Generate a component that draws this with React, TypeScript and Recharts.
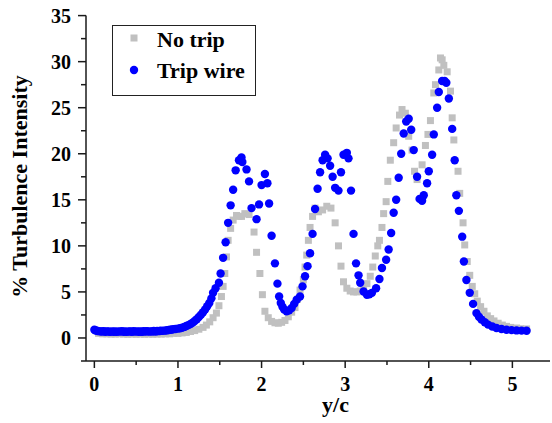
import React from 'react';
import { ScatterChart, Scatter, XAxis, YAxis, Legend } from 'recharts';

// "No trip" series: [y/c, % turbulence intensity]
const noTrip: [number, number][] = [
  [0.05, 0.5], [0.1, 0.45], [0.15, 0.45], [0.2, 0.42], [0.25, 0.42], [0.3, 0.45], [0.35, 0.42], [0.4, 0.4],
  [0.45, 0.42], [0.5, 0.4], [0.55, 0.42], [0.6, 0.4], [0.65, 0.42], [0.7, 0.4], [0.75, 0.42], [0.8, 0.42],
  [0.85, 0.45], [0.9, 0.45], [0.95, 0.5], [1.0, 0.5], [1.05, 0.55], [1.1, 0.6], [1.15, 0.7], [1.2, 0.8],
  [1.25, 0.95], [1.3, 1.15], [1.34, 1.4], [1.38, 1.75], [1.42, 2.2], [1.46, 2.7], [1.49, 3.5], [1.52, 4.5],
  [1.54, 5.6], [1.56, 7.0], [1.58, 8.8], [1.6, 10.6], [1.63, 11.9], [1.66, 12.8], [1.7, 13.3], [1.73, 13.2],
  [1.76, 13.2], [1.8, 13.5], [1.85, 13.4], [1.91, 11.5], [1.94, 9.3], [1.98, 7.0], [2.01, 4.7], [2.04, 2.9],
  [2.08, 2.2], [2.12, 1.8], [2.16, 1.65], [2.2, 1.6], [2.24, 1.7], [2.28, 1.9], [2.32, 2.3], [2.36, 2.8],
  [2.4, 3.3], [2.43, 4.2], [2.46, 5.2], [2.5, 6.3], [2.52, 7.7], [2.54, 9.0], [2.56, 10.6], [2.58, 12.0],
  [2.61, 13.2], [2.64, 14.1], [2.68, 13.7], [2.73, 13.9], [2.78, 14.3], [2.83, 14.1], [2.88, 12.5], [2.92, 10.0],
  [2.95, 7.8], [2.98, 6.1], [3.02, 5.4], [3.06, 5.1], [3.1, 5.0], [3.14, 5.0], [3.18, 5.1], [3.22, 5.4],
  [3.26, 5.9], [3.3, 6.7], [3.33, 7.7], [3.36, 8.9], [3.39, 10.0], [3.41, 10.6], [3.44, 12.0], [3.46, 13.5],
  [3.49, 14.8], [3.51, 17.0], [3.54, 19.3], [3.58, 21.2], [3.61, 22.8], [3.65, 24.2], [3.68, 24.8], [3.72, 24.4],
  [3.76, 21.9], [3.8, 20.4], [3.83, 18.1], [3.86, 17.2], [3.92, 18.8], [3.96, 20.9], [3.99, 22.1], [4.02, 23.6],
  [4.06, 26.6], [4.08, 27.5], [4.12, 29.1], [4.14, 30.4], [4.16, 30.2], [4.18, 29.6], [4.22, 28.9], [4.26, 26.8],
  [4.28, 23.9], [4.3, 21.5], [4.35, 18.1], [4.37, 15.7], [4.41, 12.5], [4.43, 10.1], [4.46, 8.3], [4.49, 6.8],
  [4.52, 5.6], [4.55, 4.8], [4.58, 4.0], [4.62, 3.4], [4.66, 2.9], [4.7, 2.4], [4.74, 2.1], [4.78, 1.85],
  [4.83, 1.6], [4.88, 1.4], [4.93, 1.26], [4.98, 1.15], [5.05, 1.08], [5.1, 1.0], [5.17, 0.98],
];

// "Trip wire" series: [y/c, % turbulence intensity]
const tripWire: [number, number][] = [
  [0, 0.9], [0.015, 0.82], [0.03, 0.78], [0.05, 0.74], [0.07, 0.72], [0.09, 0.7], [0.11, 0.74], [0.13, 0.68],
  [0.15, 0.72], [0.17, 0.7], [0.19, 0.66], [0.21, 0.72], [0.23, 0.68], [0.25, 0.71], [0.27, 0.66], [0.29, 0.72],
  [0.31, 0.69], [0.33, 0.74], [0.35, 0.68], [0.37, 0.71], [0.39, 0.66], [0.41, 0.72], [0.43, 0.7], [0.45, 0.67],
  [0.47, 0.73], [0.49, 0.69], [0.51, 0.72], [0.53, 0.67], [0.55, 0.71], [0.57, 0.68], [0.59, 0.73], [0.61, 0.7],
  [0.63, 0.74], [0.65, 0.69], [0.67, 0.72], [0.69, 0.7], [0.71, 0.75], [0.73, 0.71], [0.75, 0.76], [0.77, 0.74],
  [0.79, 0.78], [0.81, 0.77], [0.83, 0.8], [0.85, 0.8], [0.87, 0.84], [0.89, 0.86], [0.91, 0.9], [0.93, 0.92],
  [0.95, 0.96], [0.97, 0.98], [1.0, 1.02], [1.025, 1.06], [1.05, 1.12], [1.075, 1.2], [1.1, 1.3], [1.125, 1.4],
  [1.15, 1.52], [1.175, 1.66], [1.2, 1.84], [1.225, 2.04], [1.25, 2.28], [1.275, 2.52], [1.3, 2.8], [1.325, 3.1],
  [1.35, 3.45], [1.375, 3.8], [1.4, 4.3], [1.42, 4.9], [1.45, 5.4], [1.49, 6.0], [1.51, 7.0], [1.54, 8.7],
  [1.57, 10.4], [1.6, 12.5], [1.63, 14.4], [1.66, 16.1], [1.69, 18.2], [1.73, 19.3], [1.76, 19.6], [1.77, 19.1],
  [1.82, 18.3], [1.85, 17.0], [1.88, 14.1], [1.94, 12.9], [1.97, 14.5], [2.0, 16.6], [2.04, 17.8], [2.07, 16.8],
  [2.09, 14.6], [2.12, 11.1], [2.16, 8.1], [2.19, 5.9], [2.21, 4.5], [2.23, 3.8], [2.25, 3.4], [2.27, 3.1],
  [2.3, 2.9], [2.33, 3.0], [2.36, 3.25], [2.39, 3.7], [2.42, 4.15], [2.46, 4.5], [2.49, 5.6], [2.52, 6.7],
  [2.55, 7.8], [2.58, 9.2], [2.61, 11.3], [2.64, 14.0], [2.67, 16.2], [2.7, 18.0], [2.73, 19.3], [2.76, 19.9],
  [2.79, 19.5], [2.82, 18.7], [2.85, 17.5], [2.88, 16.3], [2.92, 16.0], [2.95, 18.0], [2.98, 19.9], [3.02, 20.1],
  [3.04, 19.5], [3.07, 16.0], [3.1, 11.3], [3.13, 8.1], [3.16, 6.8], [3.18, 6.0], [3.22, 5.05], [3.26, 4.7],
  [3.29, 4.75], [3.32, 4.9], [3.37, 5.4], [3.41, 6.4], [3.44, 7.6], [3.49, 8.5], [3.52, 9.6], [3.55, 11.4],
  [3.58, 13.6], [3.61, 15.0], [3.64, 17.4], [3.67, 20.0], [3.7, 22.2], [3.73, 23.5], [3.76, 23.8], [3.79, 22.6],
  [3.82, 20.4], [3.86, 17.5], [3.89, 15.1], [3.92, 14.9], [3.94, 15.5], [3.98, 16.8], [4.0, 18.1], [4.04, 19.9],
  [4.06, 22.1], [4.1, 25.0], [4.12, 26.7], [4.16, 27.9], [4.19, 27.9], [4.21, 27.7], [4.24, 26.0], [4.28, 22.7],
  [4.31, 19.3], [4.33, 15.5], [4.36, 13.8], [4.4, 11.0], [4.42, 8.3], [4.45, 6.3], [4.49, 4.9], [4.53, 3.7],
  [4.57, 2.7], [4.6, 2.3], [4.63, 2.0], [4.67, 1.7], [4.71, 1.45], [4.76, 1.25], [4.81, 1.08], [4.87, 0.98],
  [4.93, 0.9], [4.99, 0.85], [5.05, 0.82], [5.11, 0.8], [5.17, 0.79],
];

const xTicks = [0, 0.5, 1, 1.5, 2, 2.5, 3, 3.5, 4, 4.5, 5];
const yTicks = [-2.5, 0, 2.5, 5, 7.5, 10, 12.5, 15, 17.5, 20, 22.5, 25, 27.5, 30, 32.5, 35];
const seriesNames = ['No trip', 'Trip wire'];
const xLabel = 'y/c';
const yLabel = '% Turbulence Intensity';

const FONT = '"Liberation Serif", "Times New Roman", serif';
const GRAY = '#c0c0c0';
const BLUE = '#0000ff';
const AXIS = '#1a1a1a';

const toPts = (arr: [number, number][]) => arr.map(([x, y]) => ({ x, y }));

const XTick = (props: any) => {
  const { x, y, payload } = props;
  const v = payload.value;
  const major = Number.isInteger(v);
  return (
    <g>
      <line x1={x} x2={x} y1={y} y2={y + (major ? 7 : 4)} stroke={AXIS} strokeWidth={1.5} />
      {major && (
        <text x={x} y={y + 29.5} textAnchor="middle" fontFamily={FONT} fontWeight="bold" fontSize={20} fill="#000">
          {v}
        </text>
      )}
    </g>
  );
};

const YTick = (props: any) => {
  const { x, y, payload } = props;
  const v = payload.value;
  const major = v % 5 === 0;
  return (
    <g>
      <line x1={x - (major ? 8 : 5)} x2={x} y1={y} y2={y} stroke={AXIS} strokeWidth={1.5} />
      {major && (
        <text x={x - 15} y={y + 7} textAnchor="end" fontFamily={FONT} fontWeight="bold" fontSize={20} fill="#000">
          {v}
        </text>
      )}
    </g>
  );
};

const XLabel = () => (
  <text x={335.5} y={412} textAnchor="middle" fontFamily={FONT} fontWeight="bold" fontSize={22} fill="#000">
    {xLabel}
  </text>
);

const YLabel = () => (
  <text
    x={27}
    y={186.5}
    transform="rotate(-90, 27, 186.5)"
    textAnchor="middle"
    fontFamily={FONT}
    fontWeight="bold"
    fontSize={22}
    fill="#000"
  >
    {yLabel}
  </text>
);

const Square = (props: any) => {
  const { cx, cy } = props;
  if (cx == null || cy == null) return null;
  return <rect x={cx - 3.5} y={cy - 3.5} width={7} height={7} fill={GRAY} />;
};

const Dot = (props: any) => {
  const { cx, cy } = props;
  if (cx == null || cy == null) return null;
  return <circle cx={cx} cy={cy} r={4.2} fill={BLUE} />;
};

const LegendBox = () => (
  <div style={{ width: 144, height: 71, border: '1.5px solid #222', boxSizing: 'border-box', background: '#fff' }}>
    <svg width={141} height={68} style={{ display: 'block' }}>
      <rect x={17.5} y={8.5} width={7} height={7} fill={GRAY} />
      <text x={44} y={20.5} fontFamily={FONT} fontWeight="bold" fontSize={22} fill="#000">
        {seriesNames[0]}
      </text>
      <circle cx={21} cy={44} r={4.2} fill={BLUE} />
      <text x={44} y={52} fontFamily={FONT} fontWeight="bold" fontSize={22} fill="#000">
        {seriesNames[1]}
      </text>
    </svg>
  </div>
);

export default function App() {
  return (
    <div style={{ position: 'absolute', left: 0, top: 0, width: 552, height: 423, background: '#fff' }}>
      <ScatterChart width={552} height={423} margin={{ top: 15.6, right: 2, bottom: 22, left: 26 }}>
        <XAxis
          type="number"
          dataKey="x"
          domain={[-0.1, 5.45]}
          ticks={xTicks}
          interval={0}
          allowDataOverflow
          height={40}
          tickSize={0}
          tickMargin={0}
          tickLine={false}
          tick={<XTick />}
          axisLine={{ stroke: AXIS, strokeWidth: 1.5 }}
          label={<XLabel />}
        />
        <YAxis
          type="number"
          dataKey="y"
          domain={[-2.5, 35]}
          ticks={yTicks}
          interval={0}
          allowDataOverflow
          width={60}
          tickSize={0}
          tickMargin={0}
          tickLine={false}
          tick={<YTick />}
          axisLine={{ stroke: AXIS, strokeWidth: 1.5 }}
          label={<YLabel />}
        />
        <Legend
          layout="vertical"
          align="center"
          verticalAlign="middle"
          wrapperStyle={{ left: 111.5, top: 25, width: 144, height: 71 }}
          content={<LegendBox />}
        />
        <Scatter name={seriesNames[0]} data={toPts(noTrip)} shape={<Square />} isAnimationActive={false} />
        <Scatter name={seriesNames[1]} data={toPts(tripWire)} shape={<Dot />} isAnimationActive={false} />
      </ScatterChart>
    </div>
  );
}
